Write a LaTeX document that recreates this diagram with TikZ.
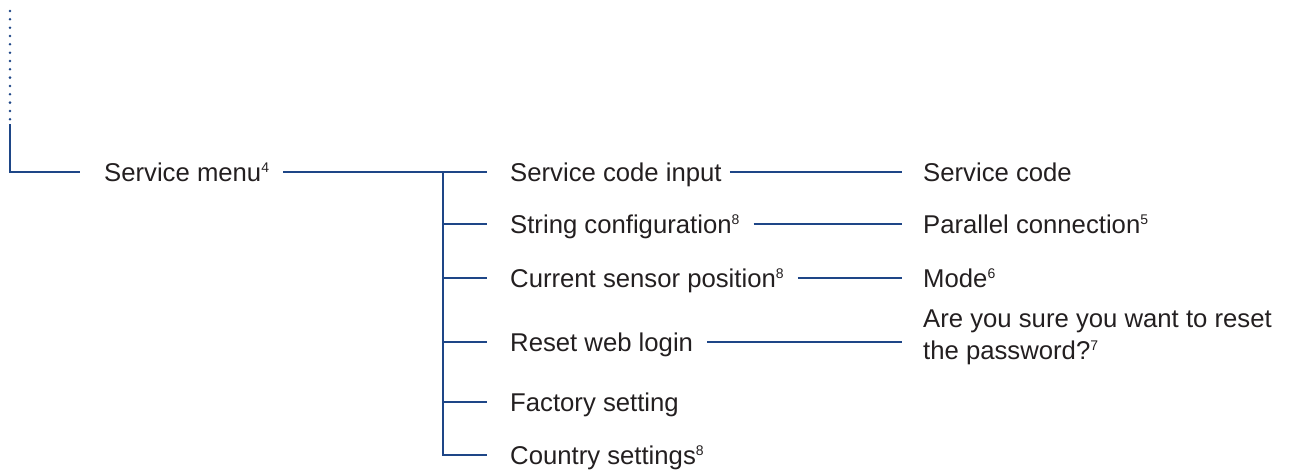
\documentclass[tikz,border=0pt]{standalone}
\usepackage{fontspec}
\setmainfont{Liberation Sans}
\usepackage{xcolor}
\usepackage{tikz}
\usetikzlibrary{calc}

\definecolor{treeblue}{RGB}{30,70,135}
\definecolor{txtgray}{RGB}{35,31,32}
\newcommand{\fnmark}[1]{\raisebox{8.5pt}{\fontsize{14}{14}\selectfont #1}}

\begin{document}
\begin{tikzpicture}[x=1pt, y=-1pt, line join=miter,
  conn/.style={line width=2.8pt, draw=treeblue},
  label/.style={inner sep=0pt, text=txtgray, font=\fontsize{25.7}{32}\selectfont},
  item/.style={label, anchor=west, text height=18.5pt, text depth=0pt}]
  \useasboundingbox (0,0) rectangle (1292,471);
  \coordinate (top) at (10,124);
  \coordinate (jn) at (443,172);
  % menu entries
  \node[item] (menu) at (104,172) {Service menu\fnmark{4}};
  \node[item] (code) at (510,172) {Service code input};
  \node[item] (string) at (510,224) {String configuration\fnmark{8}};
  \node[item] (sensor) at (510,278) {Current sensor position\fnmark{8}};
  \node[item] (reset) at (510,342) {Reset web login};
  \node[item] (factory) at (510,402) {Factory setting};
  \node[item] (country) at (510,455) {Country settings\fnmark{8}};
  \node[item] (scode) at (923,172) {Service code};
  \node[item] (parallel) at (923,224) {Parallel connection\fnmark{5}};
  \node[item] (mode) at (923,278) {Mode\fnmark{6}};
  \node[label, anchor=north west, align=left] (passwd) at (923,309.5) {Are you sure you want to reset\\the password?\fnmark{7}};
  % dotted lead-in
  \foreach \i in {0,...,13}
    \fill[treeblue] (10,11+8.33*\i) circle (1.4pt);
  % connectors
  \draw[conn] (top) |- ([xshift=-24pt]menu.west);
  \draw[conn] ([xshift=14pt]menu.east) -- ([xshift=-23pt]code.west);
  \draw[conn] (jn) |- ([xshift=-23pt]country.west);
  \foreach \n in {string,sensor,reset,factory}
    \draw[conn] (jn |- \n.west) -- ([xshift=-23pt]\n.west);
  \draw[conn] ([xshift=8pt]code.east) -- ([xshift=-21pt]scode.west);
  \draw[conn] ([xshift=14pt]string.east) -- ([xshift=-21pt]parallel.west);
  \draw[conn] ([xshift=14pt]sensor.east) -- ([xshift=-21pt]mode.west);
  \draw[conn] ([xshift=14pt]reset.east) -- ([xshift=-21pt]reset.east -| passwd.west);
\end{tikzpicture}
\end{document}
